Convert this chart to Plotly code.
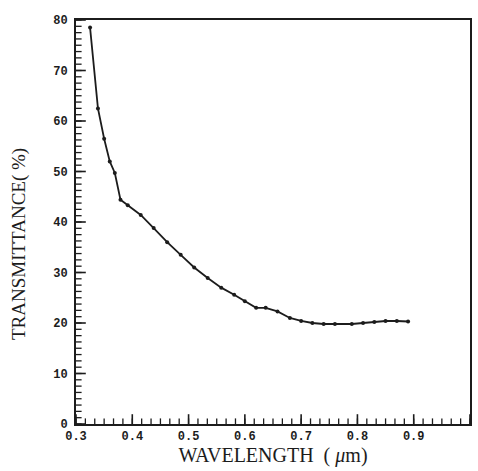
import numpy as np
import plotly.graph_objects as go

# Transmittance spectrum (wavelength in micrometres, transmittance in percent)
wavelength = [0.325, 0.339, 0.350, 0.360, 0.369, 0.379, 0.392, 0.415, 0.438, 0.462,
              0.486, 0.510, 0.534, 0.558, 0.581, 0.600, 0.620, 0.637, 0.658, 0.680,
              0.700, 0.720, 0.740, 0.760, 0.790, 0.810, 0.830, 0.850, 0.870, 0.890]
transmittance = [78.5, 62.5, 56.5, 52.0, 49.7, 44.4, 43.3, 41.4, 38.8, 36.0,
                 33.5, 31.0, 28.9, 27.0, 25.6, 24.3, 23.0, 23.0, 22.3, 21.0,
                 20.4, 20.0, 19.8, 19.8, 19.8, 20.0, 20.2, 20.4, 20.4, 20.3]

# Axis ranges, labelled tick spacing and number of minor divisions
x_range = [0.3, 1.0]
x_step = 0.1
x_minor_div = 6
y_range = [0, 80]
y_step = 10
y_minor_div = 8

ink = "#1c1c1c"
tick_font = dict(family="Liberation Mono", size=12, color=ink, weight="bold")
title_font = dict(family="Liberation Serif", color=ink)

fig = go.Figure()
fig.add_trace(go.Scatter(
    x=wavelength, y=transmittance, mode="lines+markers",
    line=dict(color=ink, width=1.8),
    marker=dict(color=ink, size=4),
    showlegend=False,
))


# Inward tick marks: line markers centred on the axis; the half lying outside
# the plotting area is clipped away, leaving only the inner half visible.
def tick_values(lo, hi, step):
    n = int(round((hi - lo) / step))
    return lo + step * np.arange(n + 1)


def add_x_ticks(step, size, width):
    xs = tick_values(x_range[0], x_range[1], step)
    fig.add_trace(go.Scatter(
        x=xs, y=np.full(len(xs), y_range[0]), mode="markers",
        marker=dict(symbol="line-ns", size=size, line=dict(color=ink, width=width)),
        cliponaxis=True, hoverinfo="skip", showlegend=False,
    ))


def add_y_ticks(step, size, width):
    ys = tick_values(y_range[0], y_range[1], step)
    fig.add_trace(go.Scatter(
        x=np.full(len(ys), x_range[0]), y=ys, mode="markers",
        marker=dict(symbol="line-ew", size=size, line=dict(color=ink, width=width)),
        cliponaxis=True, hoverinfo="skip", showlegend=False,
    ))


add_x_ticks(x_step / x_minor_div, 8, 1.3)
add_x_ticks(x_step, 14, 1.6)
add_y_ticks(y_step / y_minor_div, 8, 1.3)
add_y_ticks(y_step, 14, 1.6)

fig.update_layout(
    width=478, height=471,
    margin=dict(l=76, r=6, t=20, b=47),
    paper_bgcolor="white", plot_bgcolor="white",
    xaxis=dict(
        range=x_range, tickmode="linear", tick0=x_range[0], dtick=x_step,
        tickformat=".1f",
        showgrid=False, zeroline=False,
        showline=True, linecolor=ink, linewidth=2, mirror=True,
        ticks="", tickfont=tick_font,
        title=dict(text="WAVELENGTH\u00a0\u00a0( <i>μ</i>m)",
                   font=dict(**title_font, size=20), standoff=4),
    ),
    yaxis=dict(
        range=y_range, tickmode="linear", tick0=y_range[0], dtick=y_step,
        showgrid=False, zeroline=False,
        showline=True, linecolor=ink, linewidth=2, mirror=True,
        ticks="", tickfont=tick_font, ticklabelstandoff=4,
    ),
    annotations=[dict(
        text="TRANSMITTANCE(\u00a0%)", textangle=-90,
        xref="paper", yref="paper", x=0, y=0.5,
        xanchor="center", yanchor="middle", xshift=-57, yshift=-22,
        showarrow=False, font=dict(**title_font, size=19),
    )],
)

fig.write_html("out.html")
